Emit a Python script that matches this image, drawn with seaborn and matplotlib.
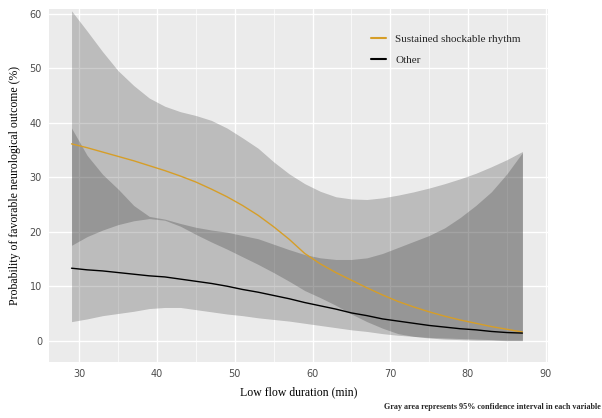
import matplotlib
matplotlib.use("Agg")
import matplotlib.pyplot as plt
import numpy as np
import pandas as pd
import seaborn as sns

# low flow duration (min), read every 2 minutes
duration = [29, 31, 33, 35, 37, 39, 41, 43, 45, 47,
            49, 51, 53, 55, 57, 59, 61, 63, 65, 67,
            69, 71, 73, 75, 77, 79, 81, 83, 85, 87]

# predicted probability (%) per group
shockable = [36.1, 35.4, 34.6, 33.8, 33.0, 32.1, 31.2, 30.2, 29.1, 27.8,
             26.4, 24.8, 23.0, 20.9, 18.6, 16.0, 14.1, 12.5, 11.1, 9.7,
             8.4, 7.2, 6.2, 5.3, 4.5, 3.8, 3.2, 2.6, 2.1, 1.6]
other = [13.3, 13.0, 12.8, 12.5, 12.2, 11.9, 11.7, 11.3, 10.9, 10.5,
         10.0, 9.4, 8.9, 8.3, 7.7, 7.0, 6.4, 5.8, 5.1, 4.6,
         4.0, 3.6, 3.2, 2.8, 2.5, 2.2, 2.0, 1.7, 1.5, 1.4]

# 95% confidence bounds
shockable_hi = [60.5, 56.8, 53.0, 49.5, 46.8, 44.5, 43.0, 42.0, 41.3, 40.4,
                39.0, 37.2, 35.3, 32.8, 30.6, 28.8, 27.4, 26.4, 26.0, 25.9,
                26.2, 26.7, 27.3, 28.0, 28.8, 29.7, 30.7, 31.9, 33.2, 34.7]
shockable_lo = [17.5, 19.1, 20.3, 21.3, 22.0, 22.4, 22.1, 21.0, 19.5, 18.1,
                16.8, 15.4, 14.0, 12.5, 10.9, 9.2, 7.9, 6.5, 4.9, 3.5,
                2.3, 1.3, 0.8, 0.5, 0.3, 0.2, 0.1, 0.1, 0.0, 0.0]
other_hi = [39.0, 34.0, 30.5, 27.8, 24.8, 22.8, 22.3, 21.5, 20.8, 20.3,
            19.9, 19.3, 18.7, 17.7, 16.7, 15.8, 15.2, 14.9, 14.9, 15.2,
            16.0, 17.1, 18.2, 19.3, 20.7, 22.6, 24.8, 27.3, 30.6, 34.5]
other_lo = [3.5, 4.0, 4.6, 5.0, 5.4, 5.9, 6.1, 6.1, 5.7, 5.3,
            4.9, 4.6, 4.2, 3.9, 3.6, 3.2, 2.8, 2.4, 2.0, 1.7,
            1.3, 1.0, 0.8, 0.6, 0.5, 0.4, 0.3, 0.2, 0.1, 0.1]

groups = ["Sustained shockable rhythm", "Other"]
colors = {"Sustained shockable rhythm": "#D69E28", "Other": "black"}

x_ticks = [30, 40, 50, 60, 70, 80, 90]
y_ticks = [0, 10, 20, 30, 40, 50, 60]

sns.set_theme(style="darkgrid", rc={"axes.facecolor": "#EBEBEB"})

df = pd.DataFrame({
    "duration": duration * 2,
    "prob": shockable + other,
    "group": [groups[0]] * len(duration) + [groups[1]] * len(duration),
})

fig = plt.figure(figsize=(6.02, 4.18), dpi=100)
ax = fig.add_axes([0.0814, 0.134, 0.829, 0.844])

# confidence ribbons
ax.fill_between(duration, shockable_lo, shockable_hi, color="black", alpha=0.2, lw=0)
ax.fill_between(duration, other_lo, other_hi, color="black", alpha=0.2, lw=0)

sns.lineplot(data=df, x="duration", y="prob", hue="group", hue_order=groups,
             palette=colors, linewidth=1.0, ax=ax)

ax.set_xlim(26.1, 90.3)
ax.set_ylim(-3.9, 60.8)
ax.set_xticks(x_ticks)
ax.set_yticks(y_ticks)
ax.set_xticks(np.arange(35, 90, 10), minor=True)
ax.grid(which="major", color="white", linewidth=1.0)
ax.grid(which="minor", axis="x", color="white", linewidth=0.5)
for s in ax.spines.values():
    s.set_visible(False)
ax.tick_params(which="both", length=0, labelsize=7, labelcolor="#4D4D4D", pad=5)
for lab in ax.get_xticklabels() + ax.get_yticklabels():
    lab.set_family("DejaVu Sans")

serif = "Liberation Serif"
ax.set_xlabel("Low flow duration (min)", family=serif, fontsize=8.5, color="black", labelpad=5)
ax.set_ylabel("Probability of favorable neurological outcome (%)", family=serif,
              fontsize=8.5, color="black", labelpad=6)

leg = ax.legend(loc="upper left", bbox_to_anchor=(0.625, 0.958), frameon=False,
                handlelength=1.4, labelspacing=1.05, prop={"family": serif, "size": 8})
for line in leg.get_lines():
    line.set_linewidth(1.5)

fig.text(0.998, 0.016, "Gray area represents 95% confidence interval in each variable",
         ha="right", va="bottom", family=serif, fontsize=5.9, fontweight="bold")

fig.savefig("out.png", dpi=100)
